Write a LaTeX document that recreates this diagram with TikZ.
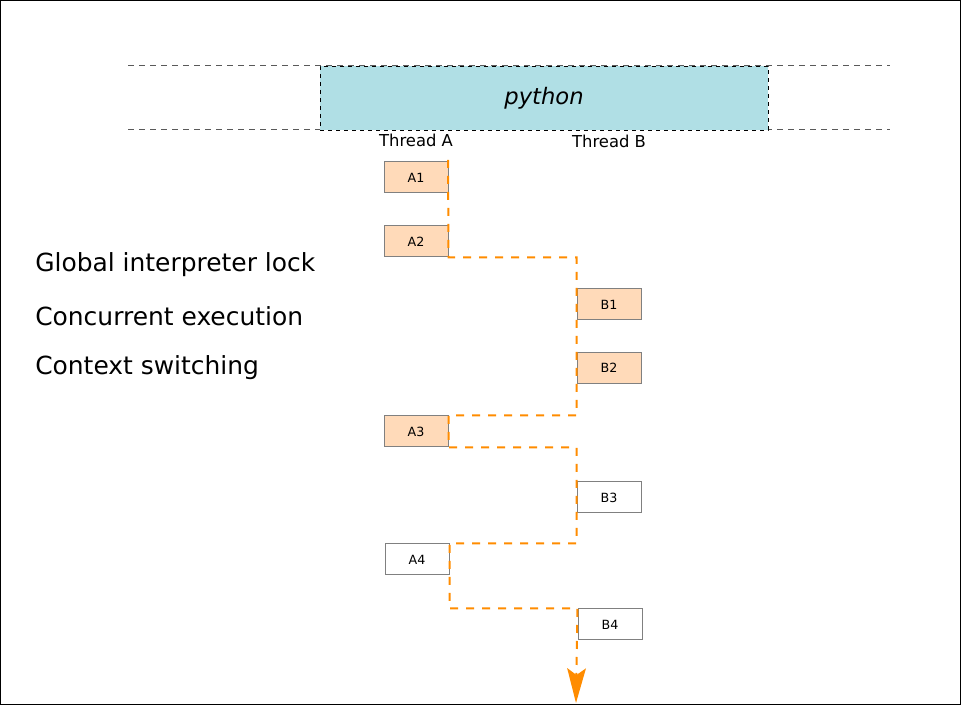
\documentclass[tikz,border=0pt]{standalone}
\usepackage{fontspec}
\setmainfont{DejaVu Sans}
\usetikzlibrary{arrows.meta}
\definecolor{gilblue}{HTML}{B0DFE5}
\definecolor{runfill}{HTML}{FFDAB9}
\definecolor{flow}{HTML}{FF8C00}
\begin{document}
\begin{tikzpicture}[
    x=0.75pt, y=-0.75pt,
    slot/.style={rectangle, draw=gray, line width=0.75pt, minimum width=48pt, minimum height=23.25pt, inner sep=0pt, font=\fontsize{9.5}{11}\selectfont},
    run/.style={slot, fill=runfill},
    idle/.style={slot, fill=white},
    guide/.style={draw=black!65, dash pattern=on 4.5pt off 3.75pt, line width=0.75pt},
    label/.style={anchor=west, inner sep=0pt, font=\fontsize{18.7}{22}\selectfont},
    header/.style={font=\fontsize{12.3}{14}\selectfont},
    handoff/.style={draw=flow, line width=1.5pt, dash pattern=on 6pt off 6pt}
]
    \useasboundingbox (0,0) rectangle (961,705);
    \draw[black, line width=0.75pt] (0.5,0.5) rectangle (960.5,704.5);

    % Interpreter band
    \draw[guide] (128,66) -- (890,66);
    \draw[guide] (128,130) -- (890,130);
    \node[draw=black, dashed, fill=gilblue, minimum width=336pt, minimum height=48pt, inner sep=0pt,
          font=\fontsize{17}{20}\selectfont\itshape] (gil) at (544,98) {python};

    % Thread headers
    \node[header] (tha) at (416,140) {Thread A};
    \node[header] (thb) at (609,141) {Thread B};

    % Time slices
    \node[run] (a1) at (416,177.5) {A1};
    \node[run] (a2) at (416,241.5) {A2};
    \node[run] (b1) at (609,304.5) {B1};
    \node[run] (b2) at (609,368) {B2};
    \node[run] (a3) at (416,431.5) {A3};
    \node[idle] (b3) at (609,497.5) {B3};
    \node[idle] (a4) at (417,559.5) {A4};
    \node[idle] (b4) at (610,624.5) {B4};

    % Captions
    \node[label] (lock) at (35,265) {Global interpreter lock};
    \node[label] (conc) at (35,316) {Concurrent execution};
    \node[label] (ctx) at (35,368) {Context switching};

    % Lock hand-off
    \coordinate (start) at (448,160);
    \coordinate (finish) at (576,703);
    \draw[handoff, -{Stealth[length=26pt, width=14pt, inset=5pt, sep=0pt]}]
        (start) -- (a2.south east) -- (b1.north west |- a2.south east)
        -- (b2.south west |- a3.north east) -- (a3.north east)
        -- (a3.south east) -- (b3.north west |- a3.south east)
        -- (b3.south west |- a4.north east) -- (a4.north east)
        -- (a4.south east |- b4.north west) -- (b4.north west) -- (finish);
\end{tikzpicture}
\end{document}
